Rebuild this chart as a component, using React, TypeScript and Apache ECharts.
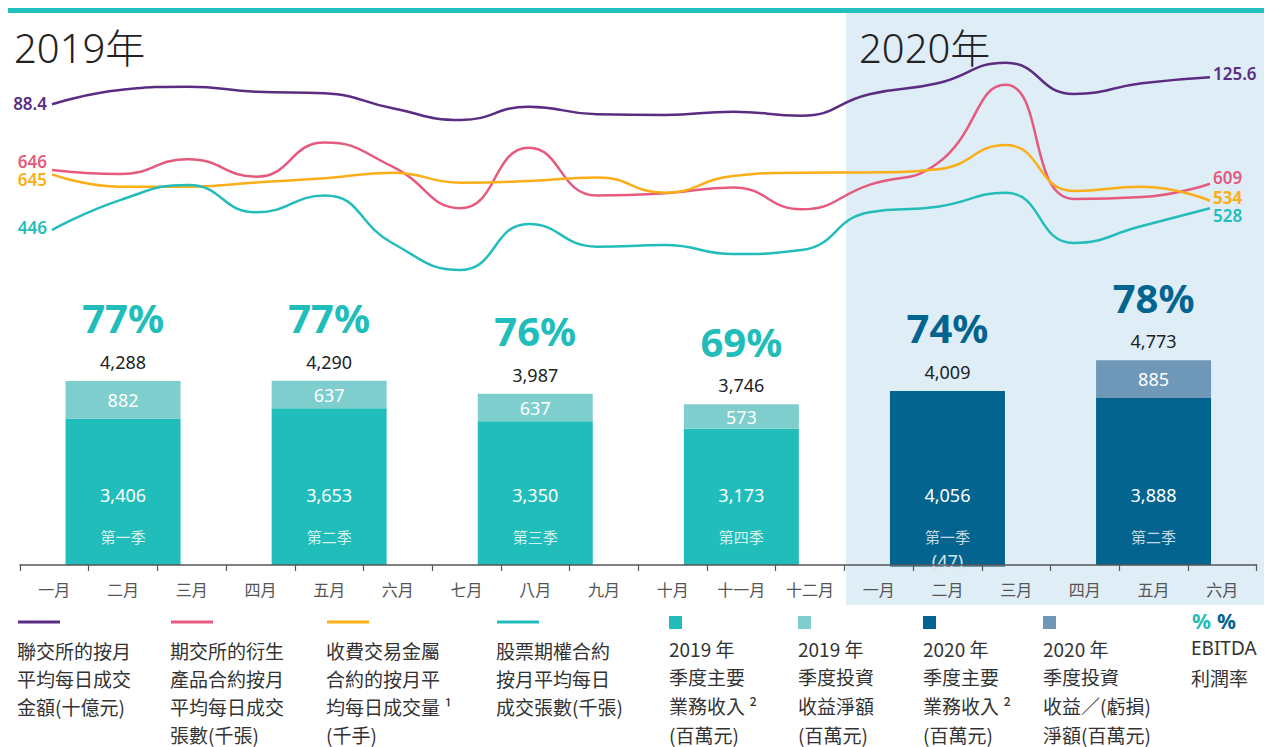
import React, { useEffect, useRef } from 'react';
import * as echarts from 'echarts';

// ---------- data ----------
const monthLabels = ['一月', '二月', '三月', '四月', '五月', '六月', '七月', '八月', '九月', '十月', '十一月', '十二月', '一月', '二月', '三月', '四月', '五月', '六月'];

// 聯交所的按月平均每日成交金額(十億元)
const hkexADT = [88.4, 108.1, 112.7, 105.8, 103.6, 82.9, 66.8, 85.1, 74.6, 73.7, 78.2, 72.7, 102.2, 117.3, 145.7, 102.6, 117.3, 125.6];
// 期交所的衍生產品合約按月平均每日成交張數(千張)
const hkfeADV = [646, 635, 675, 628, 720, 655, 543, 706, 577, 583, 599, 540, 606, 664, 876, 568, 573, 609];
// 收費交易金屬合約的按月平均每日成交量(千手)
const lmeADV = [645, 593, 593, 611, 628, 652, 610, 617, 632, 568, 638, 652, 653, 666, 768, 575, 593, 534];
// 股票期權合約按月平均每日成交張數(千張)
const stockOptADV = [446, 559, 616, 513, 576, 396, 295, 469, 383, 389, 355, 370, 513, 534, 587, 397, 461, 528];

const quarterNames = ['第一季', '第二季', '第三季', '第四季', '第一季', '第二季'];
const quarterYears = [2019, 2019, 2019, 2019, 2020, 2020];
const quarterMiddleMonth = [1, 4, 7, 10, 13, 16];
const mainRevenue = [3406, 3653, 3350, 3173, 4056, 3888];
const investIncome = [882, 637, 637, 573, -47, 885];
const totalRevenue = [4288, 4290, 3987, 3746, 4009, 4773];
const ebitdaMargin = [77, 77, 76, 69, 74, 78];

// ---------- style ----------
const PURPLE = '#5A2D82';
const PINK = '#E65A7D';
const ORANGE = '#FBAE17';
const TEAL = '#22BDBB';
const BAR19 = '#21BDBA';
const INV19 = '#7ECECD';
const BAR20 = '#02648F';
const INV20 = '#6F97B8';
const FONT = '"Noto Sans", "Noto Sans CJK TC", sans-serif';
const CJK = '"Noto Sans CJK TC", "Noto Sans", sans-serif';

const fmt = (v: number) => v.toLocaleString('en-US');

function lineSeries(name: string, data: number[], color: string, yIdx: number, startOff: number[], endOff: number[], endBold = false) {
  const last = data.length - 1;
  return {
    type: 'line',
    name,
    xAxisIndex: 1,
    yAxisIndex: yIdx,
    smooth: 0.5,
    symbol: 'circle',
    symbolSize: 0,
    showSymbol: true,
    silent: true,
    z: 3,
    lineStyle: { color, width: 2.5 },
    itemStyle: { color },
    label: { show: false },
    data: data.map((v, i) => {
      if (i === 0) {
        return { value: v, label: { show: true, position: 'left', distance: 5, offset: startOff, color, fontSize: 17, lineHeight: 17, fontWeight: 600, fontFamily: FONT, formatter: '{c}' } };
      }
      if (i === last) {
        return { value: v, label: { show: true, position: 'right', distance: 3, offset: endOff, color, fontSize: 17, lineHeight: 17, fontWeight: endBold ? 'bold' : 600, fontFamily: FONT, formatter: '{c}' } };
      }
      return v;
    }),
  };
}

function buildOption() {
  const n = monthLabels.length;
  const empty = () => new Array(n).fill('-') as any[];
  const main19 = empty(), inv19 = empty(), main20 = empty(), inv20 = empty(), tops = empty();
  quarterNames.forEach((q, k) => {
    const idx = quarterMiddleMonth[k];
    const is19 = quarterYears[k] === 2019;
    (is19 ? main19 : main20)[idx] = { value: mainRevenue[k], qname: q };
    const inv = investIncome[k];
    (is19 ? inv19 : inv20)[idx] = inv < 0
      ? { value: inv, label: { offset: [0, -5], color: '#dbe4ec' } }
      : { value: inv };
    tops[idx] = {
      value: mainRevenue[k] + Math.max(inv, 0),
      pct: ebitdaMargin[k],
      total: totalRevenue[k],
      year: quarterYears[k],
    };
  });

  const mainLabel = (qColor: string) => ({
    show: true,
    position: 'insideBottom',
    distance: 18,
    formatter: (p: any) => `{v|${fmt(p.value)}}\n{q|${p.data.qname}}`,
    rich: {
      v: { fontSize: 18, color: '#ffffff', lineHeight: 64, fontFamily: FONT },
      q: { fontSize: 15, color: qColor, lineHeight: 20, fontFamily: CJK },
    },
  });
  const invLabel = {
    show: true,
    position: 'inside',
    color: '#ffffff',
    fontSize: 18,
    fontFamily: FONT,
    formatter: (p: any) => (p.value < 0 ? `(${fmt(-p.value)})` : fmt(p.value)),
  };

  const graphic: any[] = [];
  // background for 2020
  graphic.push({ type: 'rect', z: -10, shape: { x: 846, y: 13, width: 418, height: 592 }, style: { fill: '#DFEDF7' } });
  graphic.push({ type: 'rect', z: -10, shape: { x: 8, y: 8, width: 1256, height: 5 }, style: { fill: '#22BFBF' } });
  const txt = (text: string, x: number, y: number, size: number, fill: string, family = CJK, weight: any = 'normal') => ({
    type: 'text', x, y, z: 10, silent: true,
    style: { text, fill, fontSize: size, fontFamily: family, fontWeight: weight, align: 'left', verticalAlign: 'middle', textAlign: 'left', textVerticalAlign: 'middle' },
  });
  graphic.push(txt('2019年', 14, 47, 40, '#222222', FONT, 300));
  graphic.push(txt('2020年', 859, 47, 40, '#222222', FONT, 300));

  // line legend
  const lineLegend = [
    { x: 17, color: PURPLE, lines: ['聯交所的按月', '平均每日成交', '金額(十億元)'] },
    { x: 170, color: PINK, lines: ['期交所的衍生', '產品合約按月', '平均每日成交', '張數(千張)'] },
    { x: 326, color: ORANGE, lines: ['收費交易金屬', '合約的按月平', '均每日成交量 ¹', '(千手)'] },
    { x: 496, color: TEAL, lines: ['股票期權合約', '按月平均每日', '成交張數(千張)'] },
  ];
  lineLegend.forEach((it) => {
    graphic.push({ type: 'line', z: 10, shape: { x1: it.x + 1, y1: 622, x2: it.x + 43, y2: 622 }, style: { stroke: it.color, lineWidth: 3 } });
    it.lines.forEach((l, i) => graphic.push(txt(l, it.x, 650 + i * 28.3, 19, '#333333')));
  });
  const boxLegend = [
    { x: 669, color: BAR19, lines: ['2019 年', '季度主要', '業務收入 ²', '(百萬元)'] },
    { x: 798, color: INV19, lines: ['2019 年', '季度投資', '收益淨額', '(百萬元)'] },
    { x: 923, color: BAR20, lines: ['2020 年', '季度主要', '業務收入 ²', '(百萬元)'] },
    { x: 1043, color: INV20, lines: ['2020 年', '季度投資', '收益／(虧損)', '淨額(百萬元)'] },
  ];
  boxLegend.forEach((it) => {
    graphic.push({ type: 'rect', z: 10, shape: { x: it.x, y: 616, width: 13, height: 13 }, style: { fill: it.color } });
    it.lines.forEach((l, i) => graphic.push(txt(l, it.x, 648 + i * 28.7, 19, '#333333')));
  });
  graphic.push(txt('%', 1192, 621, 21, BAR19, FONT, 'bold'));
  graphic.push(txt('%', 1217, 621, 21, BAR20, FONT, 'bold'));
  graphic.push(txt('EBITDA', 1191, 648, 19, '#333333', FONT));
  graphic.push(txt('利潤率', 1191, 677, 19, '#333333'));

  return {
    animation: false,
    backgroundColor: '#ffffff',
    textStyle: { fontFamily: FONT },
    grid: [
      { left: 20, right: 17.4, top: 350.4, bottom: 171.3 },
      { left: 52, right: 64, top: 40, bottom: 447 },
    ],
    xAxis: [
      {
        gridIndex: 0, type: 'category', data: monthLabels, boundaryGap: true, z: 5,
        axisLine: { show: true, onZero: true, lineStyle: { color: '#555555', width: 1.5 } },
        axisTick: { show: true, interval: 0, length: 6, lineStyle: { color: '#555555', width: 1.2 } },
        axisLabel: { interval: 0, margin: 5, fontSize: 16, color: '#555555', fontFamily: CJK },
        splitLine: { show: false },
      },
      { gridIndex: 1, type: 'category', data: monthLabels, boundaryGap: false, show: false },
    ],
    yAxis: [
      { gridIndex: 0, type: 'value', min: -250, max: 5000, show: false },
      { gridIndex: 1, type: 'value', min: -181.3, max: 177.0, show: false },
      { gridIndex: 1, type: 'value', min: 295, max: 997, show: false },
      { gridIndex: 1, type: 'value', min: 117.1, max: 1209.1, show: false },
      { gridIndex: 1, type: 'value', min: 181.4, max: 1164.2, show: false },
    ],
    series: [
      { type: 'bar', name: '2019 年季度主要業務收入', stack: 'q', barWidth: 115, xAxisIndex: 0, yAxisIndex: 0, itemStyle: { color: BAR19 }, label: mainLabel('#d3f1ef'), data: main19, silent: true },
      { type: 'bar', name: '2019 年季度投資收益淨額', stack: 'q', barWidth: 115, xAxisIndex: 0, yAxisIndex: 0, itemStyle: { color: INV19 }, label: invLabel, data: inv19, silent: true },
      { type: 'bar', name: '2020 年季度主要業務收入', stack: 'q', barWidth: 115, xAxisIndex: 0, yAxisIndex: 0, itemStyle: { color: BAR20 }, label: mainLabel('#c5d9e6'), data: main20, silent: true },
      { type: 'bar', name: '2020 年季度投資收益／(虧損)淨額', stack: 'q', barWidth: 115, xAxisIndex: 0, yAxisIndex: 0, itemStyle: { color: INV20 }, label: invLabel, data: inv20, silent: true },
      {
        type: 'scatter', name: 'EBITDA', xAxisIndex: 0, yAxisIndex: 0, symbolSize: 0, silent: true, z: 4,
        itemStyle: { opacity: 1 },
        data: tops,
        label: {
          show: true, position: 'top', distance: 8, opacity: 1,
          formatter: (p: any) => `{${p.data.year === 2019 ? 'p19' : 'p20'}|${p.data.pct}%}\n{t|${fmt(p.data.total)}}`,
          rich: {
            p19: { fontSize: 40, fontWeight: 'bold', color: BAR19, lineHeight: 66, fontFamily: FONT },
            p20: { fontSize: 40, fontWeight: 'bold', color: BAR20, lineHeight: 66, fontFamily: FONT },
            t: { fontSize: 18, color: '#222222', lineHeight: 22, fontFamily: FONT },
          },
        },
      },
      lineSeries('聯交所', hkexADT, PURPLE, 1, [0, -1], [0, -4]),
      lineSeries('期交所', hkfeADV, PINK, 2, [0, -9], [0, -6]),
      lineSeries('金屬', lmeADV, ORANGE, 3, [0, 5], [0, -3], true),
      lineSeries('股票期權', stockOptADV, TEAL, 4, [0, -3], [0, 7]),
    ],
    graphic,
  };
}

export default function App() {
  const ref = useRef<HTMLDivElement>(null);
  useEffect(() => {
    if (!ref.current) return;
    const chart = echarts.init(ref.current, undefined, { renderer: 'svg' });
    chart.setOption(buildOption() as any);
    return () => chart.dispose();
  }, []);
  return (
    <div style={{ position: 'fixed', left: 0, top: 0, width: 1274, height: 747, background: '#fff' }}>
      <div ref={ref} style={{ width: 1274, height: 747 }} />
    </div>
  );
}
